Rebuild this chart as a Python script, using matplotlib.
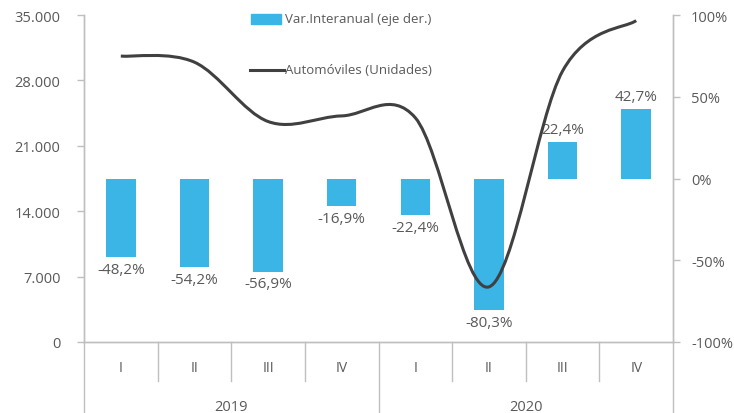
import matplotlib.pyplot as plt
import matplotlib.transforms as mtransforms
from matplotlib.path import Path
from matplotlib.patches import PathPatch, Rectangle
from matplotlib.lines import Line2D
from matplotlib.ticker import FuncFormatter

# data
trimestres = ["I", "II", "III", "IV", "I", "II", "III", "IV"]
anios = ["2019", "2020"]
var_interanual = [-48.2, -54.2, -56.9, -16.9, -22.4, -80.3, 22.4, 42.7]
automoviles = [30600, 29950, 23600, 24200, 24000, 5900, 29000, 34400]

azul = "#3BB5E6"
gris_linea = "#404040"
gris_txt = "#595959"
gris_eje = "#BFBFBF"

plt.rcParams["font.family"] = ["Open Sans", "DejaVu Sans"]

fig = plt.figure(figsize=(7.34, 4.14), dpi=100)
ax2 = fig.add_axes([84 / 734, 71 / 414, 589 / 734, 327 / 414])
ax = ax2.twinx()
ax.set_zorder(ax2.get_zorder() + 1)
ax.patch.set_visible(False)

n = len(trimestres)
x = list(range(n))

# bars on right axis
ax2.bar(x, var_interanual, width=0.4, color=azul, zorder=2)
ax2.set_ylim(-100, 100)
ax2.set_yticks([-100, -50, 0, 50, 100])
ax2.yaxis.set_major_formatter(FuncFormatter(lambda v, p: "%d%%" % v))
ax2.yaxis.tick_right()
ax2.yaxis.set_label_position("right")
for xi, v in zip(x, var_interanual):
    txt = ("%.1f%%" % v).replace(".", ",")
    if v < 0:
        ax2.text(xi, v - 3, txt, ha="center", va="top", fontsize=11, color=gris_txt)
    else:
        ax2.text(xi, v + 3, txt, ha="center", va="bottom", fontsize=11, color=gris_txt)

# smoothed line (excel-style bezier through the points)
pts = list(zip(x, automoviles))
verts = [pts[0]]
codes = [Path.MOVETO]
for i in range(n - 1):
    p0 = pts[max(i - 1, 0)]
    p1 = pts[i]
    p2 = pts[i + 1]
    p3 = pts[min(i + 2, n - 1)]
    c1 = (p1[0] + (p2[0] - p0[0]) / 6, p1[1] + (p2[1] - p0[1]) / 6)
    c2 = (p2[0] - (p3[0] - p1[0]) / 6, p2[1] - (p3[1] - p1[1]) / 6)
    verts += [c1, c2, p2]
    codes += [Path.CURVE4] * 3
ax.add_patch(PathPatch(Path(verts, codes), facecolor="none", edgecolor=gris_linea,
                       lw=2.2, capstyle="butt", zorder=3))
ax.set_ylim(0, 35000)
ax.set_yticks(range(0, 35001, 7000))
ax.yaxis.set_major_formatter(FuncFormatter(lambda v, p: "{:,.0f}".format(v).replace(",", ".")))
ax.yaxis.tick_left()
ax.set_xlim(-0.5, n - 0.5)

for a in (ax, ax2):
    a.tick_params(axis="y", colors=gris_eje, labelcolor=gris_txt, labelsize=10.5, length=5, width=1)
    a.tick_params(axis="x", length=0, labelbottom=False)
    a.spines["top"].set_visible(False)
    for s in ("left", "right", "bottom"):
        a.spines[s].set_color(gris_eje)
        a.spines[s].set_linewidth(1)
ax.tick_params(axis="y", pad=12)
ax2.tick_params(axis="y", pad=8)
ax2.set_xticks([])

# category axis below
tr = mtransforms.blended_transform_factory(ax.transData, ax.transAxes)
h = 327.0
for xi, lab in zip(x, trimestres):
    ax.text(xi, -26 / h, lab, transform=tr, ha="center", va="center", fontsize=10, color=gris_txt)
for b in range(1, n):
    bottom = -71 / h if b == 4 else -39 / h
    ax.add_line(Line2D([b - 0.5, b - 0.5], [0, bottom], transform=tr, color=gris_eje, lw=1, clip_on=False))
for side in (-0.5, n - 0.5):
    ax.add_line(Line2D([side, side], [0, -71 / h], transform=tr, color=gris_eje, lw=1, clip_on=False))
for k, a in enumerate(anios):
    ax.text(1.5 + 4 * k, -65 / h, a, transform=tr, ha="center", va="center", fontsize=10.5, color=gris_txt)

# legend
ax.add_patch(Rectangle((0.2835, 0.9725), 0.051, 0.03, transform=ax.transAxes, color=azul, clip_on=False))
ax.text(0.341, 0.988, "Var.Interanual (eje der.)", transform=ax.transAxes, fontsize=9.5,
        color=gris_txt, va="center", ha="left")
ax.add_line(Line2D([0.281, 0.339], [0.832, 0.832], transform=ax.transAxes, color=gris_linea, lw=2.2))
ax.text(0.341, 0.832, "Automóviles (Unidades)", transform=ax.transAxes, fontsize=9.5,
        color=gris_txt, va="center", ha="left")

fig.savefig("out.png", dpi=100)
